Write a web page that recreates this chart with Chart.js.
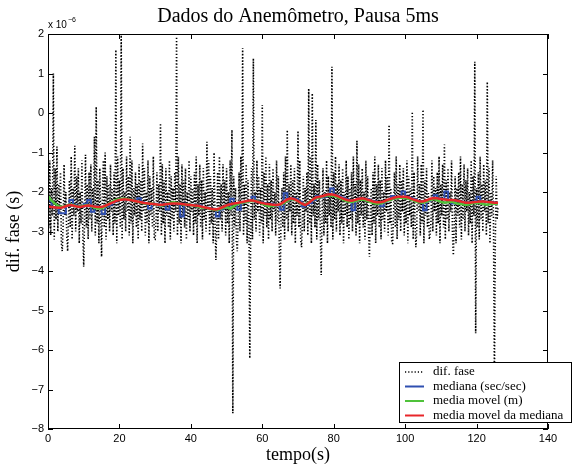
<!DOCTYPE html>
<html>
<head>
<meta charset="utf-8">
<script src="https://cdn.jsdelivr.net/npm/chart.js@4.4.0/dist/chart.umd.min.js"></script>
<style>
    body { margin: 0; background: #fff; }
    #wrap { width: 573px; height: 467px; }
</style>
</head>
<body>
<div id="wrap"><canvas id="grafico" width="573" height="467"></canvas></div>
<script>
// Dados (unidades de 1e-6 s)
const passoFase = 0.25;  // s entre amostras de dif. fase
const passoSeg = 1;      // s entre amostras das medianas/medias

const difFase = [
    -1.60, -2.90, -1.20, -3.10, -1.90, -2.60, 1.00, -3.20, -1.40, -2.70,
    -0.85, -3.00, -1.80, -2.50, -1.50, -3.30, -3.50, -2.80, -1.30, -2.60,
    -2.00, -3.10, -3.50, -2.70, -1.70, -2.90, -1.10, -3.20, -1.90, -2.60,
    -0.83, -3.00, -1.60, -2.50, -1.40, -3.30, -2.00, -2.80, -1.20, -3.10,
    -3.89, -2.60, -1.06, -2.90, -1.80, -3.20, -1.50, -2.70, -1.30, -3.00,
    -1.90, -2.50, -0.60, -3.10, 0.16, -2.80, -1.70, -3.30, -1.40, -2.60,
    -3.64, -2.00, -1.20, -2.90, -1.00, -3.20, -1.60, -2.70, -1.80, -3.00,
    -1.30, -2.50, -1.90, -3.10, -1.50, -2.80, 1.60, -3.30, -1.10, -2.60,
    -1.70, -2.90, 1.97, -3.20, -1.40, -2.70, -2.00, -3.00, -1.10, -2.50,
    -1.60, -3.10, -0.60, -2.80, -1.20, -3.30, -1.90, -2.60, -1.50, -2.90,
    -1.80, -3.20, -1.30, -2.70, -1.70, -3.00, -0.77, -2.50, -1.40, -3.10,
    -2.00, -2.80, -1.20, -3.30, -1.60, -2.60, -1.90, -2.90, -1.10, -3.20,
    -3.20, -2.70, -1.50, -3.00, -1.80, -2.50, -0.26, -3.10, -1.30, -2.80,
    -1.70, -3.30, -1.40, -2.60, -2.00, -2.90, -1.20, -3.20, -1.60, -2.70,
    -1.90, -3.00, -1.50, -2.50, 1.93, -3.10, -1.10, -2.80, -1.80, -3.30,
    -1.30, -2.60, -1.70, -2.90, -1.40, -3.20, -2.00, -2.70, -1.20, -3.00,
    -1.60, -2.50, -1.90, -3.10, -1.50, -2.80, -1.10, -3.30, -1.80, -2.60,
    -1.30, -2.90, -1.70, -3.20, -1.40, -2.70, -2.00, -3.00, -0.73, -2.50,
    -1.20, -3.10, -1.60, -2.80, -1.90, -3.30, -1.00, -2.60, -3.72, -2.90,
    -1.50, -3.20, -1.10, -2.70, -1.80, -3.00, -1.30, -2.50, -1.70, -3.10,
    -1.40, -2.80, -2.00, -3.30, -1.20, -2.60, -0.43, -7.60, -1.60, -2.90,
    -1.90, -3.20, -3.50, -2.70, -1.50, -3.00, -1.10, -2.50, 1.64, -3.10,
    -1.80, -2.80, -1.30, -3.30, -1.70, -2.60, -6.21, -2.90, -1.40, -3.20,
    1.38, -2.70, -2.00, -3.00, -1.20, -2.50, -1.60, -3.10, -1.90, -2.80,
    0.20, -3.30, -1.50, -2.60, -1.10, -2.90, -1.80, -3.20, -1.30, -2.70,
    -1.70, -3.00, -1.40, -2.50, -2.00, -3.10, -1.20, -2.80, -1.60, -3.30,
    -4.44, -2.60, -1.90, -2.90, -1.50, -3.20, -1.10, -2.70, -0.43, -3.00,
    -1.80, -2.50, -1.30, -3.10, -1.70, -2.80, -1.40, -3.30, -2.00, -2.60,
    -0.45, -2.90, -1.20, -3.20, -3.40, -2.70, -1.60, -3.00, -1.90, -2.50,
    -1.50, -3.10, 0.62, -2.80, -1.10, -3.30, 0.50, -2.60, -1.80, -2.90,
    -0.18, -3.20, -1.30, -2.70, -1.70, -3.00, -4.10, -2.50, -1.40, -3.10,
    -2.00, -2.80, -1.20, -3.30, -1.60, -2.60, -1.90, -2.90, 1.17, -3.20,
    -1.50, -2.70, -1.10, -3.00, -1.80, -2.50, -1.30, -3.10, -1.70, -2.80,
    -1.40, -3.30, -2.00, -2.60, -1.20, -2.90, -1.60, -3.20, -1.90, -2.70,
    -1.50, -3.00, -1.10, -2.50, -1.80, -3.10, -0.70, -2.80, -1.30, -3.30,
    -1.70, -2.60, -1.40, -2.90, -2.00, -3.20, -1.20, -2.70, -1.60, -3.00,
    -3.64, -2.50, -1.90, -3.10, -1.50, -2.80, -1.10, -3.30, -1.80, -2.60,
    -1.30, -2.90, -1.70, -3.20, -1.40, -2.70, -2.00, -3.00, -1.20, -2.50,
    -1.60, -3.10, -0.30, -2.80, -1.90, -3.30, -3.30, -2.60, -1.50, -2.90,
    -1.10, -3.20, -1.80, -2.70, -1.30, -3.00, -1.70, -2.50, -1.40, -3.10,
    -2.00, -2.80, -1.20, -3.30, -1.60, -2.60, -1.90, -2.90, 0.03, -3.20,
    -1.50, -2.70, -3.40, -3.00, -1.10, -2.50, -1.80, -3.10, -1.30, -2.80,
    0.08, -3.30, -1.70, -2.60, -1.40, -2.90, -2.00, -3.20, -3.10, -2.70,
    -1.20, -3.00, -1.60, -2.50, -1.90, -3.10, -1.50, -2.80, -1.10, -3.30,
    -1.80, -2.60, -1.30, -2.90, -0.80, -3.20, -1.70, -2.70, -1.40, -3.00,
    -2.00, -2.50, -1.20, -3.10, -3.60, -2.80, -1.60, -3.30, -1.90, -2.60,
    -1.50, -2.90, -1.10, -3.20, -1.80, -2.70, -1.30, -3.00, -1.70, -2.50,
    -1.40, -3.10, -2.00, -2.80, -1.20, -3.30, -1.60, -2.60, 1.30, -5.58,
    -1.90, -2.90, -1.50, -3.20, -1.10, -2.70, -1.80, -3.00, -1.30, -2.50,
    -1.70, -3.10, 0.79, -2.80, -1.40, -3.30, -2.00, -2.60, -1.20, -2.90,
    -6.90, -3.20, -1.60, -2.70, -2.40
];

const mediana = [
    -2.22, -2.38, -2.40, -2.54, -2.54, -2.35, -2.20, -2.32, -2.36, -2.38,
    -2.30, -2.20, -2.50, -2.36, -2.38, -2.56, -2.36, -2.32, -2.25, -2.20,
    -2.18, -2.20, -2.18, -2.20, -2.22, -2.16, -2.26, -2.30, -2.42, -2.30,
    -2.30, -2.34, -2.30, -2.44, -2.30, -2.28, -2.30, -2.62, -2.30, -2.32,
    -2.32, -2.36, -2.34, -2.38, -2.40, -2.42, -2.44, -2.62, -2.44, -2.40,
    -2.34, -2.17, -2.30, -2.45, -2.28, -2.25, -2.22, -2.12, -2.24, -2.26,
    -2.28, -2.30, -2.30, -2.32, -2.34, -2.45, -2.03, -2.20, -2.16, -2.18,
    -2.24, -2.37, -2.33, -2.28, -2.20, -2.10, -2.14, -2.12, -2.08, -1.91,
    -2.08, -2.10, -2.14, -2.18, -2.22, -2.46, -2.20, -2.16, -2.18, -2.18,
    -2.22, -2.24, -2.26, -2.36, -2.24, -2.20, -2.10, -2.16, -2.12, -1.99,
    -2.12, -2.14, -2.18, -2.22, -2.24, -2.46, -2.22, -2.18, -2.08, -2.16,
    -2.18, -1.99, -2.20, -2.29, -2.22, -2.24, -2.26, -2.28, -2.26, -2.24,
    -2.12, -2.24, -2.24, -2.26, -2.26, -2.28, -2.28
];

const mediaMovel = [
    -2.10, -2.22, -2.30, -2.36, -2.38, -2.35, -2.32, -2.33, -2.36, -2.37,
    -2.35, -2.33, -2.36, -2.40, -2.42, -2.41, -2.37, -2.30, -2.24, -2.20,
    -2.18, -2.17, -2.18, -2.19, -2.22, -2.24, -2.27, -2.29, -2.30, -2.29,
    -2.31, -2.33, -2.34, -2.31, -2.28, -2.26, -2.27, -2.30, -2.32, -2.31,
    -2.33, -2.35, -2.37, -2.39, -2.40, -2.42, -2.44, -2.46, -2.44, -2.40,
    -2.38, -2.42, -2.36, -2.31, -2.27, -2.26, -2.24, -2.23, -2.22, -2.25,
    -2.30, -2.34, -2.36, -2.35, -2.33, -2.32, -2.28, -2.22, -2.18, -2.19,
    -2.24, -2.30, -2.32, -2.27, -2.19, -2.16, -2.14, -2.11, -2.09, -2.08,
    -2.10, -2.13, -2.17, -2.21, -2.24, -2.25, -2.23, -2.20, -2.19, -2.21,
    -2.25, -2.28, -2.30, -2.29, -2.26, -2.22, -2.20, -2.16, -2.15, -2.14,
    -2.15, -2.17, -2.20, -2.24, -2.26, -2.27, -2.24, -2.20, -2.18, -2.21,
    -2.25, -2.27, -2.26, -2.24, -2.28, -2.30, -2.31, -2.33, -2.31, -2.28,
    -2.27, -2.28, -2.31, -2.32, -2.30, -2.29, -2.30
];

const mediaMovelMediana = [
    -2.37, -2.38, -2.39, -2.40, -2.39, -2.36, -2.33, -2.34, -2.37, -2.38,
    -2.36, -2.34, -2.35, -2.37, -2.38, -2.38, -2.35, -2.31, -2.27, -2.23,
    -2.20, -2.19, -2.19, -2.20, -2.22, -2.24, -2.26, -2.28, -2.29, -2.30,
    -2.31, -2.32, -2.32, -2.31, -2.30, -2.29, -2.29, -2.30, -2.31, -2.32,
    -2.33, -2.34, -2.35, -2.37, -2.39, -2.41, -2.43, -2.44, -2.42, -2.38,
    -2.34, -2.31, -2.29, -2.28, -2.26, -2.24, -2.22, -2.21, -2.23, -2.26,
    -2.28, -2.30, -2.31, -2.32, -2.33, -2.31, -2.25, -2.19, -2.16, -2.18,
    -2.23, -2.29, -2.33, -2.28, -2.20, -2.14, -2.12, -2.10, -2.07, -2.06,
    -2.07, -2.10, -2.14, -2.18, -2.21, -2.22, -2.20, -2.17, -2.16, -2.18,
    -2.21, -2.24, -2.26, -2.26, -2.24, -2.20, -2.17, -2.14, -2.12, -2.12,
    -2.12, -2.14, -2.18, -2.21, -2.24, -2.24, -2.21, -2.17, -2.15, -2.16,
    -2.18, -2.19, -2.20, -2.20, -2.21, -2.23, -2.25, -2.27, -2.27, -2.26,
    -2.25, -2.24, -2.24, -2.25, -2.26, -2.27, -2.27
];

const ticksX = [0, 20, 40, 60, 80, 100, 120, 140];
const ticksY = [-8, -7, -6, -5, -4, -3, -2, -1, 0, 1, 2];
const nomes = ['dif. fase', 'mediana (sec/sec)', 'media movel (m)', 'media movel da mediana'];

const serif = '"Liberation Serif", "Times New Roman", serif';
const sans = '"Liberation Sans", Arial, sans-serif';

function pontos(valores, passo) {
    return valores.map((v, i) => ({ x: i * passo, y: v }));
}

// Moldura, textos e legenda no estilo MATLAB
const moldura = {
    id: 'moldura',
    afterDatasetsDraw(chart) {
        const { ctx, chartArea: a, scales: { x, y } } = chart;
        ctx.save();
        ctx.strokeStyle = '#000';
        ctx.lineWidth = 1;
        ctx.strokeRect(a.left + 0.5, a.top + 0.5, a.width - 1, a.height - 1);

        // marcas para dentro
        ctx.beginPath();
        ticksX.forEach(v => {
            const px = Math.round(x.getPixelForValue(v)) + 0.5;
            ctx.moveTo(px, a.bottom); ctx.lineTo(px, a.bottom - 5);
            ctx.moveTo(px, a.top); ctx.lineTo(px, a.top + 5);
        });
        ticksY.forEach(v => {
            const py = Math.round(y.getPixelForValue(v)) + 0.5;
            ctx.moveTo(a.left, py); ctx.lineTo(a.left + 5, py);
            ctx.moveTo(a.right, py); ctx.lineTo(a.right - 5, py);
        });
        ctx.stroke();

        // titulo e eixos
        ctx.fillStyle = '#000';
        ctx.textAlign = 'center';
        ctx.textBaseline = 'middle';
        ctx.font = '20px ' + serif;
        ctx.fillText('Dados do Anemômetro, Pausa 5ms', (a.left + a.right) / 2, 17);
        ctx.font = '18px ' + serif;
        ctx.fillText('tempo(s)', (a.left + a.right) / 2, 455);
        ctx.save();
        ctx.translate(14, (a.top + a.bottom) / 2);
        ctx.rotate(-Math.PI / 2);
        ctx.fillText('dif. fase (s)', 0, 0);
        ctx.restore();

        // expoente
        ctx.textAlign = 'left';
        ctx.textBaseline = 'alphabetic';
        ctx.font = '10px ' + sans;
        ctx.fillText('x 10', 48, 28);
        ctx.font = '7px ' + sans;
        ctx.fillText('\u22126', 68, 22);

        // legenda
        const lx = 399, ly = 362, lw = 173, lh = 61;
        ctx.fillStyle = '#fff';
        ctx.fillRect(lx, ly, lw, lh);
        ctx.strokeRect(lx + 0.5, ly + 0.5, lw - 1, lh - 1);
        ctx.font = '13px ' + serif;
        ctx.textBaseline = 'middle';
        chart.data.datasets.forEach((ds, i) => {
            const ry = ly + 10 + i * 14.5;
            ctx.beginPath();
            ctx.strokeStyle = ds.borderColor;
            ctx.lineWidth = Math.min(ds.borderWidth, 2);
            ctx.setLineDash(ds.borderDash || []);
            ctx.moveTo(lx + 6, ry);
            ctx.lineTo(lx + 25, ry);
            ctx.stroke();
            ctx.setLineDash([]);
            ctx.fillStyle = '#000';
            ctx.fillText(ds.label, lx + 34, ry);
        });
        ctx.restore();
    }
};

const ctx = document.getElementById('grafico');
new Chart(ctx, {
    type: 'line',
    data: {
        datasets: [{
            label: nomes[0],
            data: pontos(difFase, passoFase),
            borderColor: '#000',
            borderWidth: 1.6,
            borderDash: [1.2, 2],
            pointRadius: 0,
            order: 4
        }, {
            label: nomes[1],
            data: pontos(mediana, passoSeg),
            borderColor: '#2f4fb0',
            borderWidth: 2,
            stepped: true,
            pointRadius: 0,
            order: 3
        }, {
            label: nomes[2],
            data: pontos(mediaMovel, passoSeg),
            borderColor: '#4fc23a',
            borderWidth: 2.5,
            pointRadius: 0,
            order: 2
        }, {
            label: nomes[3],
            data: pontos(mediaMovelMediana, passoSeg),
            borderColor: '#e8262a',
            borderWidth: 2.5,
            pointRadius: 0,
            order: 1
        }]
    },
    options: {
        responsive: false,
        animation: false,
        devicePixelRatio: 1,
        layout: { padding: { top: 34, right: 25, left: 0, bottom: 0 } },
        plugins: { legend: { display: false }, tooltip: { enabled: false } },
        scales: {
            x: {
                type: 'linear',
                min: 0, max: 140,
                afterFit: s => { s.height = 38; },
                afterBuildTicks: s => { s.ticks = ticksX.map(v => ({ value: v })); },
                grid: { display: false, drawTicks: false },
                border: { display: false },
                ticks: { padding: 3, color: '#000', font: { family: sans, size: 11 } }
            },
            y: {
                min: -8, max: 2,
                afterFit: s => { s.width = 48; },
                afterBuildTicks: s => { s.ticks = ticksY.map(v => ({ value: v })); },
                grid: { display: false, drawTicks: false },
                border: { display: false },
                ticks: {
                    padding: 4, color: '#000', font: { family: sans, size: 11 },
                    callback: v => String(v).replace('-', '\u2212')
                }
            }
        }
    },
    plugins: [moldura]
});
</script>
</body>
</html>
